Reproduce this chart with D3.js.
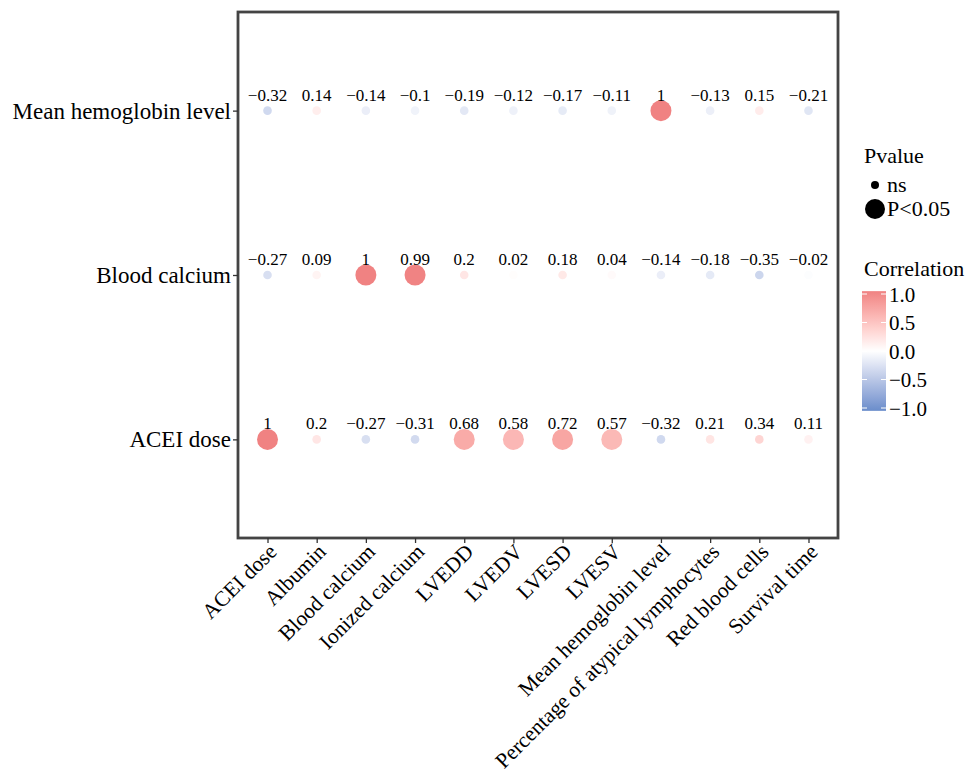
<!DOCTYPE html>
<html>
<head>
<meta charset="utf-8">
<script src="https://cdn.jsdelivr.net/npm/d3@7"></script>
<style>
    body { margin: 0; background: #fff; }
    text { font-family: "Liberation Serif", "Times New Roman", serif; fill: #000; }
</style>
</head>
<body>
<div id="chart"></div>
<script>
// Column variables (x) and row variables (y, bottom to top)
const xVars = ['ACEI dose', 'Albumin', 'Blood calcium', 'Ionized calcium', 'LVEDD', 'LVEDV',
    'LVESD', 'LVESV', 'Mean hemoglobin level', 'Percentage of atypical lymphocytes',
    'Red blood cells', 'Survival time'];
const yVars = ['ACEI dose', 'Blood calcium', 'Mean hemoglobin level'];

// Correlation values per row
const corrACEI = [1, 0.2, -0.27, -0.31, 0.68, 0.58, 0.72, 0.57, -0.32, 0.21, 0.34, 0.11];
const corrCalcium = [-0.27, 0.09, 1, 0.99, 0.2, 0.02, 0.18, 0.04, -0.14, -0.18, -0.35, -0.02];
const corrHemo = [-0.32, 0.14, -0.14, -0.1, -0.19, -0.12, -0.17, -0.11, 1, -0.13, 0.15, -0.21];

// Significance per row (true = P<0.05)
const sigACEI = [true, false, false, false, true, true, true, true, false, false, false, false];
const sigCalcium = [false, false, true, true, false, false, false, false, false, false, false, false];
const sigHemo = [false, false, false, false, false, false, false, false, true, false, false, false];

const legendTicks = [1.0, 0.5, 0.0, -0.5, -1.0];

const rows = [
    { name: 'ACEI dose', corr: corrACEI, sig: sigACEI },
    { name: 'Blood calcium', corr: corrCalcium, sig: sigCalcium },
    { name: 'Mean hemoglobin level', corr: corrHemo, sig: sigHemo }
];
const cells = [];
rows.forEach(r => {
    xVars.forEach((x, i) => {
        cells.push({ x: x, y: r.name, r: r.corr[i], sig: r.sig[i] });
    });
});

const width = 971, height = 783;
const panel = { left: 238, right: 838, top: 12, bottom: 538 };

const svg = d3.select('#chart').append('svg')
    .attr('width', width)
    .attr('height', height);

// Scales (ggplot-style discrete expansion of 0.6)
const xScale = d3.scalePoint()
    .domain(xVars)
    .range([panel.left, panel.right])
    .padding(0.6);
const yScale = d3.scalePoint()
    .domain(yVars)
    .range([panel.bottom, panel.top])
    .padding(0.6);

const color = d3.scaleLinear()
    .domain([-1, 0, 1])
    .range(['#6a8dcb', '#ffffff', '#f08282'])
    .interpolate(d3.interpolateLab);
const size = d3.scaleOrdinal()
    .domain([false, true])
    .range([4.3, 10.5]);

const fmt = v => String(v).replace('-', '\u2212');

// Points
svg.append('g')
    .selectAll('circle')
    .data(cells)
    .enter()
    .append('circle')
    .attr('cx', d => xScale(d.x))
    .attr('cy', d => yScale(d.y))
    .attr('r', d => size(d.sig))
    .attr('fill', d => color(d.r));

// Value labels
svg.append('g')
    .selectAll('text')
    .data(cells)
    .enter()
    .append('text')
    .attr('x', d => xScale(d.x))
    .attr('y', d => yScale(d.y) - 10)
    .attr('text-anchor', 'middle')
    .attr('font-size', '17px')
    .text(d => fmt(d.r));

// Panel border
svg.append('rect')
    .attr('x', panel.left)
    .attr('y', panel.top)
    .attr('width', panel.right - panel.left)
    .attr('height', panel.bottom - panel.top)
    .attr('fill', 'none')
    .attr('stroke', '#444')
    .attr('stroke-width', 2.8);

// X axis
const xAxis = svg.append('g')
    .attr('transform', `translate(0,${panel.bottom})`)
    .call(d3.axisBottom(xScale).tickSize(5).tickSizeOuter(0));
xAxis.select('.domain').remove();
xAxis.selectAll('.tick line').attr('stroke', '#333').attr('stroke-width', 1.3);
xAxis.selectAll('.tick text')
    .attr('font-size', '21.5px')
    .attr('fill', '#000')
    .attr('text-anchor', 'end')
    .attr('dy', 0)
    .attr('y', 0)
    .attr('x', 0)
    .attr('transform', 'translate(10,15) rotate(-45)');

// Y axis
const yAxis = svg.append('g')
    .attr('transform', `translate(${panel.left},0)`)
    .call(d3.axisLeft(yScale).tickSize(5).tickSizeOuter(0));
yAxis.select('.domain').remove();
yAxis.selectAll('.tick line').attr('stroke', '#333').attr('stroke-width', 1.3);
yAxis.selectAll('.tick text')
    .attr('font-size', '23px')
    .attr('fill', '#000')
    .attr('x', -7)
    .attr('dy', '0.33em');

// Pvalue legend
const lg = svg.append('g');
lg.append('text').attr('x', 864).attr('y', 163).attr('font-size', '22px').text('Pvalue');
[false, true].forEach((s, i) => {
    const cy = 185 + i * 24;
    lg.append('circle').attr('cx', 875).attr('cy', cy).attr('r', s ? 10 : 4).attr('fill', '#000');
    lg.append('text').attr('x', 887).attr('y', cy).attr('dy', '0.33em')
        .attr('font-size', '22px').text(s ? 'P<0.05' : 'ns');
});

// Correlation colorbar
lg.append('text').attr('x', 864).attr('y', 276).attr('font-size', '22px').text('Correlation');
const barScale = d3.scaleLinear().domain([-1, 1]).range([408, 294]);
const defs = svg.append('defs');
const grad = defs.append('linearGradient')
    .attr('id', 'corrGrad')
    .attr('x1', 0).attr('y1', 1).attr('x2', 0).attr('y2', 0);
d3.range(-1, 1.001, 0.1).forEach(v => {
    grad.append('stop')
        .attr('offset', ((v + 1) / 2 * 100) + '%')
        .attr('stop-color', color(v));
});
lg.append('rect')
    .attr('x', 862).attr('y', barScale(1.05))
    .attr('width', 24).attr('height', barScale(-1.05) - barScale(1.05))
    .attr('fill', 'url(#corrGrad)');
legendTicks.forEach(v => {
    const y = barScale(v);
    lg.append('line').attr('x1', 862).attr('x2', 867).attr('y1', y).attr('y2', y)
        .attr('stroke', '#fff').attr('stroke-width', 1);
    lg.append('line').attr('x1', 881).attr('x2', 886).attr('y1', y).attr('y2', y)
        .attr('stroke', '#fff').attr('stroke-width', 1);
    lg.append('text').attr('x', 889).attr('y', y).attr('dy', '0.36em')
        .attr('font-size', '21px').text(fmt(v.toFixed(1)));
});
</script>
</body>
</html>
